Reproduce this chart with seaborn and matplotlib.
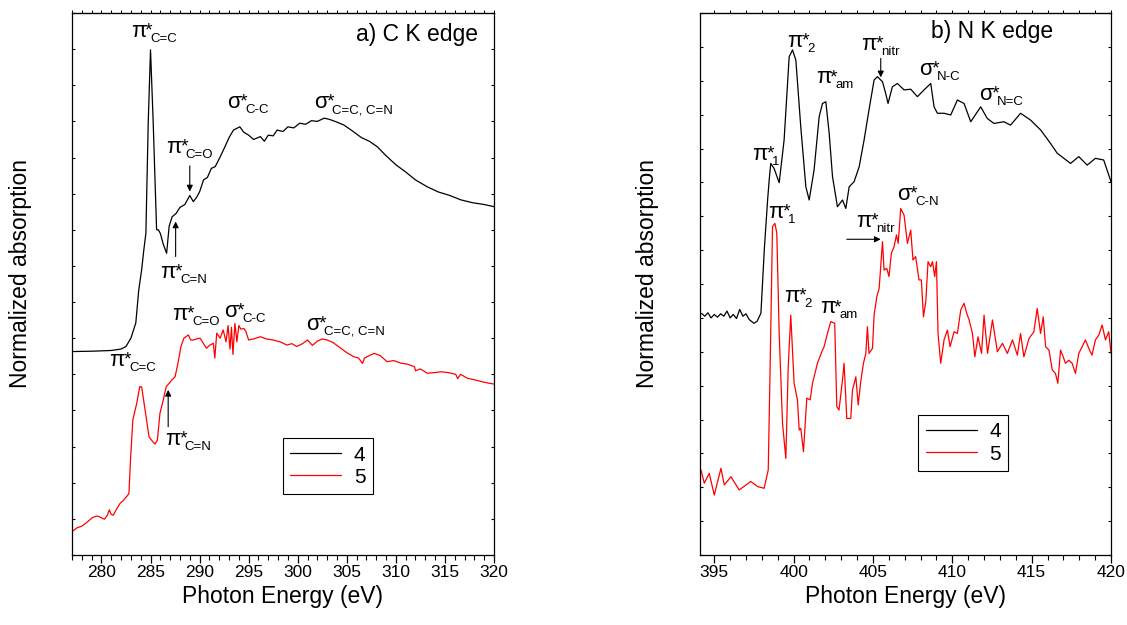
import matplotlib
matplotlib.use("Agg")
import matplotlib.pyplot as plt
import seaborn as sns
import pandas as pd
from matplotlib.ticker import MultipleLocator, NullFormatter

# ---------------- data: C K edge ----------------
ck4_x = [
    277.0, 279.0, 281.0, 282.0, 282.5, 283.0, 283.5, 283.8, 284.1, 284.3,
    284.53, 284.77, 285.0, 285.27, 285.62, 285.8, 286.0, 286.3, 286.64, 286.9,
    287.2, 287.6, 288.0, 288.5, 289.0, 289.36, 289.7, 290.0, 290.4, 290.8,
    291.2, 291.6, 292.1, 292.5, 293.0, 293.45, 294.1, 294.5, 295.0, 295.5,
    296.2, 296.6, 297.0, 297.5, 297.9, 298.5, 299.0, 299.6, 300.2, 300.8,
    301.4, 302.0, 302.7, 303.3, 304.0, 304.7, 305.5, 306.5, 307.3, 308.1,
    309.0, 310.0, 311.0, 312.0, 313.2, 314.3, 315.5, 316.6, 317.8, 319.0,
    320.0]
ck4_y = [
    5.63, 5.64, 5.66, 5.70, 5.77, 6.00, 6.42, 7.33, 7.90, 8.40,
    8.91, 12.00, 13.98, 12.00, 9.00, 9.00, 8.90, 8.60, 8.35, 9.10,
    9.36, 9.45, 9.62, 9.70, 9.95, 9.78, 9.90, 10.05, 10.38, 10.45,
    10.70, 10.75, 11.02, 11.25, 11.55, 11.76, 11.85, 11.70, 11.62, 11.50,
    11.58, 11.45, 11.62, 11.60, 11.76, 11.72, 11.85, 11.82, 11.95, 11.92,
    12.02, 12.00, 12.09, 12.05, 11.98, 11.90, 11.75, 11.55, 11.45, 11.30,
    11.05, 10.80, 10.60, 10.38, 10.19, 10.05, 9.95, 9.83, 9.75, 9.70,
    9.64]

ck5_x = [
    277.0, 277.5, 278.0, 278.5, 279.1, 279.6, 280.3, 280.6, 280.8, 281.0,
    281.2, 281.5, 281.9, 282.2, 282.55, 282.8, 282.96, 283.2, 283.6, 283.9,
    284.1, 284.4, 284.85, 285.1, 285.45, 285.7, 285.96, 286.3, 286.6, 286.9,
    287.15, 287.5, 287.8, 288.1, 288.4, 288.85, 289.1, 289.4, 289.7, 290.05,
    290.4, 290.7, 291.0, 291.4, 291.55, 291.75, 292.1, 292.4, 292.7, 292.9,
    293.1, 293.25, 293.4, 293.6, 293.8, 294.0, 294.2, 294.5, 294.7, 295.0,
    295.5, 296.2, 296.8, 297.5, 298.2, 298.9, 299.4, 299.9, 300.5, 301.0,
    301.5, 302.0, 302.5, 303.0, 303.6, 304.4, 305.0, 305.7, 306.2, 306.6,
    306.8, 307.3, 307.8, 308.4, 309.1, 309.8, 310.5, 311.2, 311.9, 312.0,
    312.5, 313.2, 314.0, 314.6, 315.3, 316.1, 316.3, 316.6, 317.3, 318.0,
    318.7, 319.4, 320.0]
ck5_y = [
    0.65, 0.75, 0.80, 0.90, 1.04, 1.08, 0.99, 1.10, 1.25, 1.12,
    1.10, 1.25, 1.43, 1.50, 1.61, 1.70, 2.63, 3.74, 4.20, 4.66,
    4.65, 4.10, 3.27, 3.18, 3.07, 3.18, 3.92, 4.29, 4.66, 4.75,
    4.84, 4.93, 5.31, 5.77, 6.00, 6.09, 5.95, 5.95, 5.98, 6.00,
    5.85, 5.72, 5.80, 5.86, 5.45, 6.14, 6.00, 6.23, 5.90, 6.35,
    5.70, 6.30, 5.55, 6.41, 5.90, 6.35, 6.25, 6.27, 6.20, 5.95,
    5.98, 6.04, 5.98, 5.95, 5.90, 5.81, 5.85, 5.77, 5.85, 5.95,
    5.80, 5.92, 5.98, 5.95, 5.88, 5.72, 5.60, 5.49, 5.45, 5.30,
    5.45, 5.52, 5.58, 5.52, 5.35, 5.38, 5.31, 5.28, 5.21, 5.10,
    5.15, 5.03, 5.05, 5.07, 5.05, 5.00, 4.88, 5.00, 4.89, 4.85,
    4.80, 4.76, 4.73]

# ---------------- data: N K edge ----------------
nk4_x = [
    394.2, 394.4, 394.6, 394.8, 395.0, 395.2, 395.4, 395.6, 395.8, 396.0,
    396.2, 396.4, 396.6, 396.8, 397.0, 397.2, 397.5, 397.7, 397.94, 398.15,
    398.36, 398.46, 398.56, 398.77, 399.09, 399.4, 399.72, 399.93, 400.14, 400.45,
    400.77, 400.98, 401.29, 401.61, 401.82, 402.03, 402.24, 402.45, 402.76, 403.08,
    403.29, 403.5, 403.81, 404.13, 404.44, 404.75, 405.07, 405.28, 405.6, 405.8,
    405.95, 406.22, 406.54, 406.96, 407.38, 407.8, 408.22, 408.64, 408.85, 409.06,
    409.48, 409.9, 410.32, 410.74, 411.16, 411.79, 412.2, 412.62, 413.25, 413.67,
    414.3, 414.93, 415.56, 416.19, 416.61, 417.45, 417.97, 418.5, 419.02, 419.54,
    420.0]
nk4_y = [
    7.13, 7.05, 7.15, 7.00, 7.10, 7.02, 7.12, 7.05, 7.20, 7.00,
    7.10, 6.98, 7.25, 7.05, 7.12, 6.95, 6.84, 6.90, 7.14, 9.00,
    10.48, 11.07, 11.56, 11.41, 10.99, 12.25, 14.71, 14.91, 14.61, 12.64,
    10.87, 10.48, 11.37, 12.94, 13.33, 13.38, 12.45, 11.17, 10.28, 10.48,
    10.23, 10.87, 11.02, 11.46, 12.25, 13.14, 14.02, 14.12, 13.97, 13.63,
    13.33, 13.82, 13.92, 13.73, 13.75, 13.53, 13.73, 13.92, 13.23, 13.04,
    13.04, 12.99, 13.43, 13.33, 12.79, 13.23, 12.89, 12.74, 12.79, 12.69,
    13.04, 12.84, 12.55, 12.15, 11.86, 11.56, 11.76, 11.51, 11.71, 11.66,
    11.02]

nk5_x = [
    394.16, 394.37, 394.68, 395.0, 395.42, 395.63, 396.05, 396.57, 397.3, 397.73,
    398.14, 398.4, 398.52, 398.67, 398.82, 398.94, 399.09, 399.3, 399.51, 399.66,
    399.82, 400.03, 400.24, 400.35, 400.45, 400.62, 400.83, 401.04, 401.19, 401.5,
    401.82, 401.92, 402.13, 402.34, 402.59, 402.72, 402.86, 403.08, 403.18, 403.35,
    403.6, 403.71, 403.92, 404.07, 404.23, 404.4, 404.55, 404.65, 404.75, 404.97,
    405.07, 405.24, 405.39, 405.49, 405.6, 405.7, 405.87, 406.01, 406.16, 406.33,
    406.48, 406.59, 406.75, 406.96, 407.17, 407.38, 407.52, 407.69, 407.9, 408.05,
    408.18, 408.33, 408.47, 408.64, 408.75, 408.89, 409.0, 409.1, 409.27, 409.48,
    409.69, 409.86, 410.11, 410.32, 410.53, 410.74, 410.91, 411.06, 411.27, 411.42,
    411.62, 411.84, 412.0, 412.22, 412.53, 412.84, 413.16, 413.47, 413.79, 414.1,
    414.3, 414.51, 414.83, 415.14, 415.35, 415.56, 415.73, 415.88, 416.09, 416.3,
    416.5, 416.65, 416.82, 416.99, 417.13, 417.34, 417.55, 417.76, 417.97, 418.18,
    418.39, 418.6, 418.8, 419.02, 419.23, 419.44, 419.65, 419.86, 420.0]
nk5_y = [
    2.51, 2.12, 2.41, 1.77, 2.56, 2.07, 2.31, 1.92, 2.17, 2.02,
    1.97, 2.51, 5.56, 9.69, 9.79, 9.50, 6.54, 3.89, 2.85, 5.56,
    7.08, 5.07, 4.58, 3.69, 3.74, 3.05, 4.63, 4.58, 5.07, 5.66,
    6.05, 6.15, 6.54, 6.89, 6.84, 4.38, 4.28, 5.17, 5.66, 4.03,
    4.03, 4.87, 5.26, 4.43, 5.12, 5.66, 5.95, 6.74, 5.95, 6.10,
    7.08, 7.62, 7.87, 8.51, 9.25, 8.41, 8.46, 8.22, 8.91, 9.10,
    9.45, 9.20, 10.23, 10.03, 9.20, 9.59, 8.71, 8.81, 8.12, 8.12,
    7.03, 7.48, 8.66, 8.51, 8.66, 8.22, 8.66, 6.54, 5.66, 6.35,
    6.64, 6.15, 6.59, 6.54, 7.23, 7.43, 7.13, 6.94, 6.54, 5.85,
    6.44, 5.95, 7.08, 5.95, 6.94, 6.00, 6.25, 5.95, 6.35, 5.90,
    6.54, 5.85, 6.39, 6.59, 7.28, 6.54, 7.03, 6.15, 6.05, 5.46,
    5.36, 5.07, 6.05, 5.85, 5.66, 5.75, 5.66, 5.36, 5.95, 6.15,
    6.35, 6.10, 5.90, 6.35, 6.49, 6.79, 6.35, 6.59, 5.95]

series_labels = ["4", "5"]
series_colors = ["black", "red"]

# peak labels: (glyph, subscript, x, y) at glyph left / baseline
ck_marks = [
    ("π", "C=C", 283.0, 14.34), ("σ", "C-C", 292.78, 12.37),
    ("σ", "C=C, C=N", 301.7, 12.37), ("π", "C=O", 286.57, 11.13),
    ("π", "C=N", 286.0, 7.66), ("π", "C=O", 287.25, 6.50),
    ("σ", "C-C", 292.5, 6.58), ("σ", "C=C, C=N", 300.85, 6.23),
    ("π", "C=C", 280.78, 5.23), ("π", "C=N", 286.47, 3.04)]
nk_marks = [
    ("π", "2", 399.62, 15.0), ("π", "am", 401.4, 13.92),
    ("π", "nitr", 404.27, 14.91), ("σ", "N-C", 407.9, 14.17),
    ("σ", "N=C", 411.67, 13.43), ("π", "1", 397.4, 11.66),
    ("π", "1", 398.4, 9.94), ("σ", "C-N", 406.54, 10.48),
    ("π", "nitr", 403.96, 9.69), ("π", "2", 399.4, 7.48),
    ("π", "am", 401.65, 7.13)]
# arrows: (tail, head)
ck_arrows = [((289.0, 10.77), (289.0, 10.06)), ((287.56, 8.26), (287.56, 9.23)),
             ((286.8, 3.55), (286.8, 4.57))]
nk_arrows = [((405.49, 14.66), (405.49, 14.10)), ((403.35, 9.32), (405.49, 9.32))]

# ---------------- style ----------------
sns.set_style("ticks")
plt.rcParams["font.family"] = ["Liberation Sans", "DejaVu Sans"]
plt.rcParams["text.color"] = "black"
plt.rcParams["axes.labelcolor"] = "black"
plt.rcParams["xtick.color"] = "black"
plt.rcParams["ytick.color"] = "black"
plt.rcParams["axes.edgecolor"] = "black"

fig = plt.figure(figsize=(11.27, 6.25), dpi=100)
axL = fig.add_axes([72 / 1127, 1 - 555 / 625, 422 / 1127, 542 / 625])
axR = fig.add_axes([700 / 1127, 1 - 555 / 625, 411 / 1127, 542 / 625])
renderer = fig.canvas.get_renderer()

for ax, xs, ys in [(axL, [ck4_x, ck5_x], [ck4_y, ck5_y]),
                   (axR, [nk4_x, nk5_x], [nk4_y, nk5_y])]:
    for x, y, l, c in zip(xs, ys, series_labels, series_colors):
        df = pd.DataFrame({"E": x, "A": y})
        sns.lineplot(data=df, x="E", y="A", ax=ax, color=c, lw=0.9,
                     label=l, estimator=None, sort=False)

axL.set_xlim(277, 320)
axL.set_ylim(0, 15)
axR.set_xlim(394.1, 420)
axR.set_ylim(0, 16)

for ax, lx in [(axL, -0.095), (axR, -0.1)]:
    ax.xaxis.set_major_locator(MultipleLocator(5))
    ax.xaxis.set_minor_locator(MultipleLocator(1))
    ax.yaxis.set_major_locator(MultipleLocator(1))
    ax.yaxis.set_major_formatter(NullFormatter())
    ax.tick_params(axis="x", which="major", direction="out", length=6,
                   width=0.9, labelsize=12.5, pad=1, colors="black")
    ax.tick_params(axis="x", which="minor", direction="out", length=3.5,
                   width=0.8, colors="black")
    ax.tick_params(axis="y", which="major", direction="in", length=2.5,
                   width=0.8, left=True, right=True, colors="black")
    for s in ax.spines.values():
        s.set_visible(True)
        s.set_linewidth(0.9)
        s.set_color("black")
    sec = ax.secondary_xaxis("top")
    sec.xaxis.set_major_locator(MultipleLocator(1))
    sec.tick_params(direction="out", length=2, width=0.7, labeltop=False,
                    colors="black")
    ax.set_xlabel("Photon Energy (eV)", fontsize=16.5, color="black")
    ax.set_ylabel("Normalized absorption", fontsize=16.5, color="black")
    ax.xaxis.set_label_coords(0.5, -0.056)
    ax.yaxis.set_label_coords(lx, 0.52)

# legends
for ax, anchor in [(axL, (0.500, 0.2153)), (axR, (0.531, 0.258))]:
    leg = ax.legend(loc="upper left", bbox_to_anchor=anchor, fontsize=15,
                    frameon=True, fancybox=False, edgecolor="black",
                    framealpha=1, borderaxespad=0, borderpad=0.35,
                    handlelength=2.45, handletextpad=0.6, labelspacing=0.15)
    leg.get_frame().set_linewidth(0.8)
    for t in leg.get_texts():
        t.set_color("black")


def mark(ax, g, sub, x, y):
    t = ax.text(x, y, g, fontsize=16, va="baseline", color="black")
    w = t.get_window_extent(renderer=renderer).width * 72 / fig.dpi
    ax.annotate("*", xy=(x, y), xytext=(w - 0.8, 1.0), color="black",
                textcoords="offset points", fontsize=14, va="baseline")
    ax.annotate(sub, xy=(x, y), xytext=(w + 3.2, -3.6), color="black",
                textcoords="offset points", fontsize=9.5, va="baseline")


arrow = dict(arrowstyle="-|>", color="black", lw=0.8, mutation_scale=9,
             shrinkA=0, shrinkB=0)

axL.text(0.963, 0.948, "a) C K edge", transform=axL.transAxes, ha="right",
         va="baseline", fontsize=16.5, color="black")
axR.text(0.858, 0.953, "b) N K edge", transform=axR.transAxes, ha="right",
         va="baseline", fontsize=16.5, color="black")

for ax, marks, arrows in [(axL, ck_marks, ck_arrows), (axR, nk_marks, nk_arrows)]:
    for g, sub, x, y in marks:
        mark(ax, g, sub, x, y)
    for tail, head in arrows:
        ax.annotate("", xy=head, xytext=tail, arrowprops=arrow)

fig.savefig("out.png", dpi=100)
